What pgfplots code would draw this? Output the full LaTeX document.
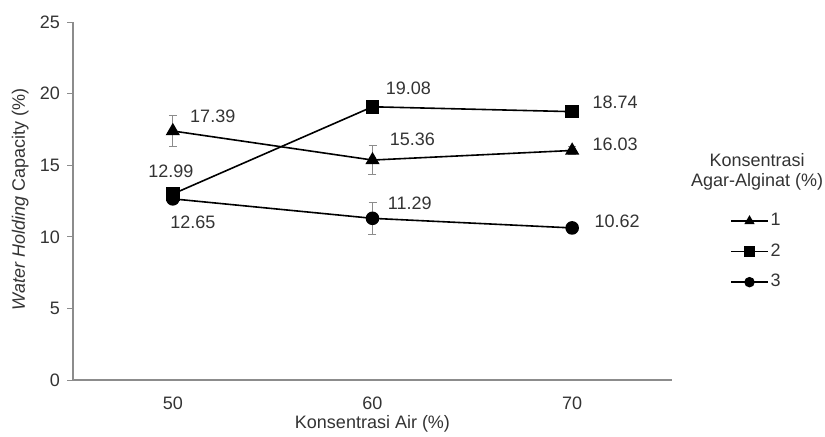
\documentclass[border=0pt]{standalone}
\usepackage{pgfplots}
\pgfplotsset{compat=1.18}
\usepackage{pgfplotstable}
\usepackage{fontspec}
\setmainfont{Liberation Sans}
\definecolor{axgray}{gray}{0.55}
\definecolor{txt}{gray}{0.2}
\pgfplotstableread{
x y e
0 17.39 1.1
1 15.36 1.0
2 16.03 0.3
}\seriesA
\pgfplotstableread{
x y e
0 12.99 0.3
1 19.08 0.3
2 18.74 0.3
}\seriesB
\pgfplotstableread{
x y e
0 12.65 0.3
1 11.29 1.1
2 10.62 0.4
}\seriesC
\begin{document}
\begin{tikzpicture}
\useasboundingbox (0,0) rectangle (412.5pt,218pt);
\begin{axis}[
  scale only axis,
  width=299.5pt, height=179pt,
  at={(36.5pt,28pt)}, anchor=south west,
  xmin=-0.5, xmax=2.5, ymin=0, ymax=25,
  xtick={0,1,2}, xticklabels={50,60,70},
  ytick={0,5,10,15,20,25},
  /pgf/number format/assume math mode=true,
  axis x line*=bottom, axis y line*=left,
  axis line style={axgray, line width=0.6pt},
  x axis line style={-}, y axis line style={-},
  tick align=outside, major tick length=3pt,
  xtick style={draw=none},
  ytick style={axgray, line width=0.5pt},
  tick label style={font=\fontsize{9}{10}\selectfont, text=txt},
  xticklabel style={yshift=-2pt},
  xlabel={Konsentrasi Air (\%)},
  ylabel={\textit{Water Holding} Capacity (\%)},
  label style={font=\fontsize{9}{10}\selectfont, text=txt},
  xlabel style={at={(axis description cs:0.5,-0.122)}, anchor=center},
  ylabel style={at={(axis description cs:-0.088,0.505)}, anchor=center},
  clip=false,
  legend style={at={(rel axis cs:1.097,0.472)}, anchor=north west, draw=none, fill=none,
    font=\fontsize{9}{10}\selectfont, text=txt, row sep=5.5pt, inner sep=0pt,
    nodes={inner sep=1pt}},
  legend cell align=left,
  legend image code/.code={
    \draw[mark repeat=2,mark phase=2,#1,mark size=2.2pt] plot coordinates {(0cm,0cm) (0.32cm,0cm) (0.64cm,0cm)};
  },
  every axis plot/.append style={line width=0.8pt},
  error bars/error bar style={axgray, line width=0.5pt},
  error bars/error mark options={rotate=90, mark size=2pt, axgray, line width=0.5pt},
]
\addplot[black, mark=triangle*, mark size=3.3pt, mark options={solid},
  error bars/.cd, y dir=both, y explicit]
  table[x=x, y=y, y error=e] {\seriesA};
\addlegendentry{1}
\addplot[black, mark=square*, mark size=3pt, mark options={solid},
  error bars/.cd, y dir=both, y explicit]
  table[x=x, y=y, y error=e] {\seriesB};
\addlegendentry{2}
\addplot[black, mark=*, mark size=3pt, mark options={solid},
  error bars/.cd, y dir=both, y explicit]
  table[x=x, y=y, y error=e] {\seriesC};
\addlegendentry{3}
\begin{scope}[every node/.style={font=\fontsize{9}{10}\selectfont, text=txt, inner sep=0pt}]
\node[anchor=west] at ([xshift=8.5pt,yshift=7.5pt]axis cs:0,17.39) {17.39};
\node[anchor=west] at ([xshift=8.5pt,yshift=10.5pt]axis cs:1,15.36) {15.36};
\node[anchor=west] at ([xshift=10pt,yshift=3pt]axis cs:2,16.03) {16.03};
\node[anchor=center] at ([xshift=-1pt,yshift=11.5pt]axis cs:0,12.99) {12.99};
\node[anchor=west] at ([xshift=6.5pt,yshift=9pt]axis cs:1,19.08) {19.08};
\node[anchor=west] at ([xshift=10pt,yshift=4.5pt]axis cs:2,18.74) {18.74};
\node[anchor=center] at ([xshift=10pt,yshift=-11.5pt]axis cs:0,12.65) {12.65};
\node[anchor=west] at ([xshift=7.5pt,yshift=7.5pt]axis cs:1,11.29) {11.29};
\node[anchor=west] at ([xshift=11pt,yshift=3.5pt]axis cs:2,10.62) {10.62};
\node[align=center, anchor=center] at (rel axis cs:1.142,0.582) {Konsentrasi\\Agar-Alginat (\%)};
\end{scope}
\end{axis}
\end{tikzpicture}
\end{document}
